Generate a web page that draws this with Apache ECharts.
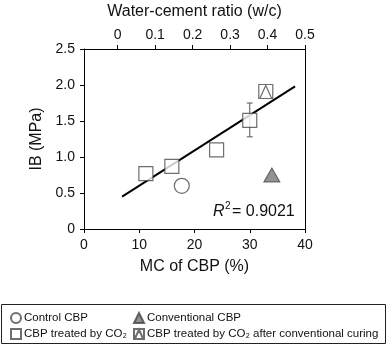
<!DOCTYPE html>
<html>
<head>
<meta charset="utf-8">
<script src="https://cdn.jsdelivr.net/npm/echarts@6/dist/echarts.min.js"></script>
<style>
  html, body { margin: 0; padding: 0; background: #fff; }
  #chart { width: 388px; height: 345px; }
</style>
</head>
<body>
<div id="chart"></div>
<script>
  // data
  var controlCBP = [[17.7, 0.60]];
  var conventionalCBP = [[34.0, 0.75]];
  var treatedCO2 = [[11.2, 0.77], [15.9, 0.87], [24.0, 1.10], [30.0, 1.51]];
  var treatedAfterCuring = [[32.9, 1.91]];
  var errorBars = [[30.0, 1.28, 1.75]];
  var fitLine = [[6.9, 0.45], [38.2, 1.98]];
  var wcTicks = [0, 0.1, 0.2, 0.3, 0.4, 0.5];

  var font = 'Liberation Sans, Arial, Helvetica, sans-serif';
  var edge = '#4a4a4a';

  var myChart = echarts.init(document.getElementById('chart'), null, {renderer: 'canvas'});

  var legendText = {fontSize: 11.5, lineHeight: 14, color: '#111', fontFamily: font, padding: [0, 0, 0, -2]};

  myChart.setOption({
    animation: false,
    backgroundColor: '#fff',
    textStyle: {fontFamily: font, color: '#111'},
    grid: {left: 84, right: 83, top: 49, bottom: 116, show: false, outerBoundsMode: 'none', containLabel: false},
    xAxis: [
      {
        type: 'value',
        position: 'bottom',
        min: 0,
        max: 40,
        interval: 10,
        name: 'MC of CBP (%)',
        nameLocation: 'middle',
        nameGap: 30,
        nameTextStyle: {fontSize: 16, color: '#111', fontFamily: font},
        axisLine: {show: true, onZero: false, lineStyle: {color: '#000', width: 1}},
        axisTick: {show: true, inside: false, length: 4, lineStyle: {color: '#000'}},
        axisLabel: {fontSize: 14, color: '#111', margin: 9, fontFamily: font},
        splitLine: {show: false}
      },
      {
        type: 'value',
        position: 'top',
        min: -0.09,
        max: 0.5,
        name: 'Water-cement ratio (w/c)',
        nameLocation: 'middle',
        nameGap: 29,
        nameTextStyle: {fontSize: 16, color: '#111', fontFamily: font},
        axisLine: {show: true, onZero: false, lineStyle: {color: '#000', width: 1}},
        axisTick: {show: true, inside: false, length: 4, customValues: wcTicks, lineStyle: {color: '#000'}},
        axisLabel: {fontSize: 14, color: '#111', margin: 7, customValues: wcTicks, fontFamily: font},
        splitLine: {show: false}
      }
    ],
    yAxis: [
      {
        type: 'value',
        min: 0,
        max: 2.5,
        interval: 0.5,
        name: 'IB (MPa)',
        nameLocation: 'middle',
        nameGap: 39,
        nameTextStyle: {fontSize: 16, color: '#111', fontFamily: font},
        axisLine: {show: true, onZero: false, lineStyle: {color: '#000', width: 1}},
        axisTick: {show: true, inside: false, length: 4, lineStyle: {color: '#000'}},
        axisLabel: {
          fontSize: 14,
          color: '#111',
          margin: 9,
          fontFamily: font,
          formatter: function (v) { return v === 0 ? '0' : v.toFixed(1); }
        },
        splitLine: {show: false}
      },
      {
        type: 'value',
        position: 'right',
        min: 0,
        max: 2.5,
        axisLine: {show: true, onZero: false, lineStyle: {color: '#000', width: 1}},
        axisTick: {show: false},
        axisLabel: {show: false},
        splitLine: {show: false}
      }
    ],
    legend: [
      {
        left: 10,
        top: 311,
        orient: 'vertical',
        itemGap: 2,
        itemWidth: 10,
        itemHeight: 10,
        padding: 0,
        textStyle: legendText,
        data: ['Control CBP', 'CBP treated by CO\u2082']
      },
      {
        left: 133,
        top: 311,
        orient: 'vertical',
        itemGap: 2,
        itemWidth: 10,
        itemHeight: 10,
        padding: 0,
        textStyle: legendText,
        data: ['Conventional CBP', 'CBP treated by CO\u2082 after conventional curing']
      }
    ],
    graphic: [
      {
        type: 'rect',
        shape: {x: 1.5, y: 304.5, width: 384, height: 39},
        style: {fill: 'none', stroke: '#222', lineWidth: 1},
        silent: true
      },
      {
        type: 'text',
        x: 213,
        y: 204,
        style: {text: 'R', font: 'italic 16px ' + font, fill: '#111'}
      },
      {
        type: 'text',
        x: 225,
        y: 201,
        style: {text: '2', font: '10px ' + font, fill: '#111'}
      },
      {
        type: 'text',
        x: 232,
        y: 204,
        style: {text: '= 0.9021', font: '16px ' + font, fill: '#111'}
      }
    ],
    series: [
      {
        name: 'fit',
        type: 'line',
        data: fitLine,
        symbol: 'none',
        z: 1,
        lineStyle: {color: '#000', width: 2},
        silent: true
      },
      {
        name: 'error',
        type: 'custom',
        z: 2,
        data: errorBars,
        renderItem: function (params, api) {
          var lo = api.coord([api.value(0), api.value(1)]);
          var hi = api.coord([api.value(0), api.value(2)]);
          var cap = 3;
          var st = {stroke: '#555', lineWidth: 1};
          return {
            type: 'group',
            children: [
              {type: 'line', shape: {x1: lo[0], y1: lo[1], x2: hi[0], y2: hi[1]}, style: st},
              {type: 'line', shape: {x1: lo[0] - cap, y1: lo[1], x2: lo[0] + cap, y2: lo[1]}, style: st},
              {type: 'line', shape: {x1: hi[0] - cap, y1: hi[1], x2: hi[0] + cap, y2: hi[1]}, style: st}
            ]
          };
        }
      },
      {
        name: 'Control CBP',
        type: 'scatter',
        data: controlCBP,
        symbol: 'circle',
        symbolSize: 15,
        z: 3,
        itemStyle: {color: '#fff', borderColor: edge, borderWidth: 1.2}
      },
      {
        name: 'CBP treated by CO\u2082',
        type: 'scatter',
        data: treatedCO2,
        symbol: 'rect',
        symbolSize: 14,
        z: 3,
        itemStyle: {color: '#fff', borderColor: edge, borderWidth: 1.2}
      },
      {
        name: 'Conventional CBP',
        type: 'scatter',
        data: conventionalCBP,
        symbol: 'triangle',
        symbolSize: [16, 14],
        z: 3,
        itemStyle: {color: '#777', borderColor: '#444', borderWidth: 1}
      },
      {
        name: 'CBP treated by CO\u2082 after conventional curing',
        type: 'scatter',
        data: treatedAfterCuring,
        symbol: 'path://M0,0L20,0L20,20L0,20ZM1.5,20L10,1.5L18.5,20Z',
        symbolSize: 14,
        z: 3,
        itemStyle: {color: '#fff', borderColor: edge, borderWidth: 1.2}
      }
    ]
  });
</script>
</body>
</html>
